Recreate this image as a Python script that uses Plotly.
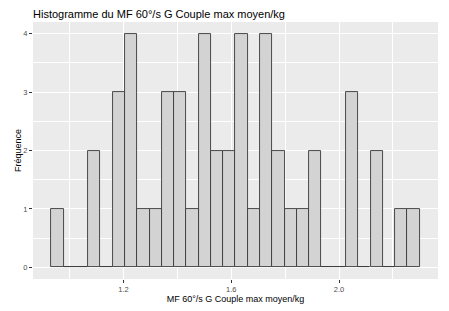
import plotly.graph_objects as go

# Bin centres (MF 60°/s G Couple max moyen/kg) and counts
bin_centers = [0.9550, 1.0005, 1.0461, 1.0917, 1.1372, 1.1828, 1.2283, 1.2739, 1.3194, 1.3650,
               1.4106, 1.4561, 1.5017, 1.5472, 1.5928, 1.6383, 1.6839, 1.7295, 1.7750, 1.8206,
               1.8661, 1.9117, 1.9573, 2.0028, 2.0484, 2.0939, 2.1395, 2.1850, 2.2306, 2.2762]
counts = [1, 0, 0, 2, 0, 3, 4, 1, 1, 3,
          3, 1, 4, 2, 2, 4, 1, 4, 2, 1,
          1, 2, 0, 0, 3, 0, 2, 0, 1, 1]

x_tickvals = [1.2, 1.6, 2.0]
x_ticktext = ["1.2", "1.6", "2.0"]
y_tickvals = [0, 1, 2, 3, 4]

title_text = "Histogramme du MF 60°/s G Couple max moyen/kg"
x_title = "MF 60°/s G Couple max moyen/kg"
y_title = "Fréquence"

bin_width = bin_centers[1] - bin_centers[0]
x_lo = bin_centers[0] - bin_width / 2
x_hi = bin_centers[-1] + bin_width / 2
x_pad = (x_hi - x_lo) * 0.05
y_max = max(counts)

FONT = "Liberation Sans, Arial, sans-serif"

fig = go.Figure()
fig.add_trace(go.Bar(
    x=bin_centers, y=counts, width=bin_width,
    marker=dict(color="#D3D3D3", line=dict(color="#3A3A3A", width=0.9)),
    hoverinfo="x+y",
))

fig.update_layout(
    width=449, height=311,
    margin=dict(l=33, r=11, t=22, b=32),
    paper_bgcolor="white",
    plot_bgcolor="#EBEBEB",
    showlegend=False,
    bargap=0,
    font=dict(family=FONT, color="black"),
    title=dict(text=title_text, x=33 / 449, xanchor="left", y=1 - 14 / 311, yanchor="middle",
               font=dict(size=11, color="black", family=FONT)),
)

fig.update_xaxes(
    automargin=False,
    range=[x_lo - x_pad, x_hi + x_pad],
    tickvals=x_tickvals, ticktext=x_ticktext,
    ticks="outside", ticklen=3, tickcolor="#333333", tickwidth=0.6,
    tickfont=dict(size=7.5, color="#4D4D4D"),
    showgrid=True, gridcolor="white", gridwidth=1,
    zeroline=False, showline=False,
    minor=dict(tickvals=[1.0, 1.4, 1.8, 2.2], showgrid=True, gridcolor="white", gridwidth=0.5, ticks=""),
    title=dict(text=x_title, font=dict(size=9, color="black"), standoff=1),
)
fig.update_yaxes(
    automargin=False,
    range=[-0.05 * y_max, y_max * 1.05],
    tickvals=y_tickvals,
    ticks="outside", ticklen=3, tickcolor="#333333", tickwidth=0.6,
    tickfont=dict(size=7.5, color="#4D4D4D"),
    showgrid=True, gridcolor="white", gridwidth=1,
    zeroline=False, showline=False,
    minor=dict(tickvals=[0.5, 1.5, 2.5, 3.5], showgrid=True, gridcolor="white", gridwidth=0.5, ticks=""),
    title=dict(text=y_title, font=dict(size=9, color="black"), standoff=0),
)

fig.write_html("out.html", config={"displayModeBar": False},
               post_script="document.body.style.margin='0';document.body.style.padding='0';")
